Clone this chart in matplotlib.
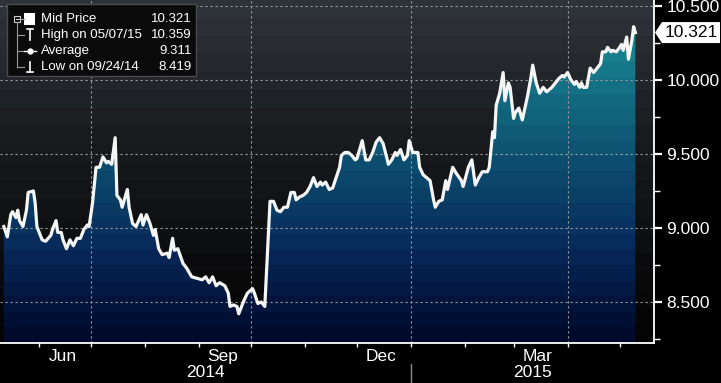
import numpy as np
import pandas as pd
import matplotlib
matplotlib.use("Agg")
import matplotlib.pyplot as plt
import matplotlib.dates as mdates
import matplotlib.transforms as mtransforms
from matplotlib.colors import LinearSegmentedColormap
from matplotlib.patches import Polygon, Rectangle
from matplotlib.ticker import AutoMinorLocator

plt.rcParams['font.family'] = ['Liberation Sans', 'DejaVu Sans']

# ---- data ----
start_date = '2014-05-12'
day_offsets = [
    0, 2, 4, 5, 7, 8, 9, 11, 13, 14,
    17, 18, 19, 22, 24, 27, 28, 30, 31, 33,
    34, 36, 38, 40, 42, 44, 46, 48, 49, 51,
    53, 55, 57, 59, 60, 62, 64, 65, 67, 68,
    71, 72, 74, 76, 79, 80, 82, 84, 86, 87,
    89, 91, 94, 95, 97, 98, 100, 103, 105, 108,
    111, 114, 116, 118, 120, 122, 124, 127, 129, 130,
    132, 134, 135, 138, 140, 143, 144, 146, 148, 150,
    153, 155, 157, 159, 161, 163, 165, 167, 168, 170,
    172, 174, 176, 178, 180, 182, 183, 185, 187, 189,
    191, 193, 194, 196, 198, 200, 202, 203, 206, 208,
    210, 212, 214, 216, 218, 220, 221, 223, 225, 226,
    228, 230, 232, 233, 235, 236, 238, 239, 241, 243,
    245, 247, 248, 250, 252, 254, 255, 258, 260, 263,
    264, 267, 269, 271, 273, 275, 278, 279, 281, 282,
    283, 285, 287, 288, 290, 291, 293, 294, 296, 298,
    301, 303, 304, 306, 308, 310, 312, 315, 317, 319,
    321, 322, 324, 326, 328, 329, 331, 332, 333, 335,
    337, 339, 341, 343, 344, 346, 347, 349, 350, 352,
    354, 355, 356, 358, 359, 361, 362, 363]
mid_price = [
    9.01, 8.94, 9.09, 9.11, 9.07, 9.12, 9.05, 9.01, 9.12, 9.24,
    9.25, 9.17, 9.01, 8.92, 8.91, 8.95, 8.99, 9.05, 8.97, 8.97,
    8.92, 8.86, 8.92, 8.88, 8.93, 8.93, 8.99, 9.02, 9.01, 9.17,
    9.41, 9.41, 9.48, 9.44, 9.45, 9.43, 9.61, 9.22, 9.19, 9.14,
    9.26, 9.14, 9.03, 9.01, 9.09, 9.02, 9.09, 9.03, 8.95, 8.99,
    8.86, 8.82, 8.83, 8.80, 8.93, 8.85, 8.86, 8.76, 8.73, 8.67,
    8.66, 8.65, 8.67, 8.63, 8.67, 8.61, 8.63, 8.61, 8.56, 8.47,
    8.48, 8.47, 8.42, 8.51, 8.56, 8.59, 8.56, 8.49, 8.50, 8.47,
    9.18, 9.18, 9.12, 9.11, 9.14, 9.14, 9.24, 9.24, 9.19, 9.21,
    9.22, 9.24, 9.28, 9.34, 9.28, 9.31, 9.29, 9.31, 9.26, 9.27,
    9.34, 9.41, 9.49, 9.51, 9.51, 9.49, 9.46, 9.47, 9.59, 9.46,
    9.46, 9.51, 9.58, 9.61, 9.57, 9.48, 9.43, 9.46, 9.51, 9.49,
    9.53, 9.46, 9.49, 9.59, 9.51, 9.51, 9.51, 9.41, 9.36, 9.34,
    9.32, 9.19, 9.14, 9.18, 9.19, 9.32, 9.26, 9.41, 9.37, 9.32,
    9.28, 9.41, 9.46, 9.29, 9.34, 9.38, 9.38, 9.41, 9.65, 9.61,
    9.83, 9.91, 10.05, 9.86, 9.98, 9.95, 9.74, 9.78, 9.81, 9.73,
    9.89, 10.02, 10.10, 9.98, 9.91, 9.95, 9.92, 9.95, 9.98, 10.01,
    10.03, 10.02, 10.05, 10.00, 9.97, 9.99, 9.95, 9.98, 9.95, 9.95,
    10.08, 10.05, 10.08, 10.11, 10.19, 10.19, 10.22, 10.19, 10.20, 10.19,
    10.22, 10.24, 10.20, 10.29, 10.14, 10.27, 10.36, 10.32]

legend_labels = ['Mid Price', 'High on 05/07/15', 'Average', 'Low on 09/24/14']
legend_values = ['10.321', '10.359', '9.311', '8.419']
last_label = '10.321'
y_ticks = [8.5, 9.0, 9.5, 10.0, 10.5]
month_labels = ['Jun', 'Sep', 'Dec', 'Mar']
year_labels = ['2014', '2015']

# ---- figure ----
W, H = 721, 383
fig = plt.figure(figsize=(W / 100, H / 100), dpi=100, facecolor='black')
ax = fig.add_axes([0, 40 / H, 654 / W, 343 / H])
ax.set_facecolor('black')

t0 = pd.Timestamp(start_date)
dates = t0 + pd.to_timedelta(day_offsets, unit='D')
x = mdates.date2num(dates.to_pydatetime())
x0 = mdates.date2num(t0.to_pydatetime())
xmin, xmax = x0 - 2.2, x0 + 373.7
ymin, ymax = 8.223, 10.54
ax.set_xlim(xmin, xmax)
ax.set_ylim(ymin, ymax)

# banded background
bg_cmap = LinearSegmentedColormap.from_list('bg', ['#2e3339', '#1c1e22', '#0f1012', '#040404'])
ax.imshow(np.linspace(0, 1, 19).reshape(-1, 1), cmap=bg_cmap, aspect='auto',
          extent=(xmin, xmax, ymin, ymax), origin='upper', interpolation='nearest', zorder=0)

# banded fill under the line
poly = ax.fill_between(x, mid_price, ymin, color='none', lw=0)
fill_cmap = LinearSegmentedColormap.from_list(
    'fill', ['#1f9099', '#146f83', '#0c4a6d', '#072758', '#020a2c'])
im = ax.imshow(np.linspace(0, 1, 22).reshape(-1, 1), cmap=fill_cmap, aspect='auto',
               extent=(xmin, xmax, ymin, ymax), origin='upper', interpolation='nearest', zorder=1)
im.set_clip_path(poly.get_paths()[0], transform=ax.transData)

# grid
months = pd.date_range('2014-06-01', '2015-05-01', freq='MS')
quarters = [m for m in months if m.month in (1, 4, 7, 10)]
for v in y_ticks:
    ax.axhline(v, color='#9a9a9a', lw=0.8, ls=(0, (2, 2.5)), zorder=2)
for q in quarters:
    ax.axvline(mdates.date2num(q.to_pydatetime()), color='#9a9a9a', lw=0.8, ls=(0, (2, 2.5)), zorder=2)

ax.plot(x, mid_price, color='#f5f5f5', lw=2.3, zorder=3, solid_joinstyle='round')

# spines
for s in ['top', 'left']:
    ax.spines[s].set_visible(False)
for s in ['bottom', 'right']:
    ax.spines[s].set_color('white')
    ax.spines[s].set_linewidth(1.3)
    ax.spines[s].set_zorder(4)

# y axis on right
ax.yaxis.tick_right()
ax.set_yticks(y_ticks)
ax.set_yticklabels(['%.3f' % v for v in y_ticks])
ax.yaxis.set_minor_locator(AutoMinorLocator(2))
ax.tick_params(axis='y', which='major', direction='out', length=6, width=1.6,
               colors='white', labelsize=12.5, pad=3)
ax.tick_params(axis='y', which='minor', direction='out', length=4, width=1, colors='white')

# x axis: ticks at month starts, labels mid-month
ax.set_xticks(mdates.date2num(months.to_pydatetime()))
ax.set_xticklabels([''] * len(months))
lab_dates = [m + pd.Timedelta(days=14) for m in months if m.strftime('%b') in month_labels]
ax.set_xticks(mdates.date2num([d.to_pydatetime() for d in lab_dates]), minor=True)
ax.set_xticklabels([d.strftime('%b') for d in lab_dates], minor=True)
ax.tick_params(axis='x', which='major', direction='out', length=3, width=1, colors='white')
ax.tick_params(axis='x', which='minor', length=0, pad=4, labelcolor='white', labelsize=12.5)

# year row
trans = mtransforms.blended_transform_factory(ax.transData, ax.transAxes)
jan1 = mdates.date2num(pd.Timestamp('2015-01-01').to_pydatetime())
ax.text((xmin + jan1) / 2, -0.087, year_labels[0], transform=trans, ha='center', va='center',
        color='white', fontsize=12.5)
ax.text((jan1 + xmax) / 2, -0.087, year_labels[1], transform=trans, ha='center', va='center',
        color='white', fontsize=12.5)
ax.plot([jan1, jan1], [-0.06, -0.12], transform=trans, clip_on=False, color='#8a8a8a', lw=1)

# ---- overlay in pixel coordinates: legend box and last-value tag ----
lax = fig.add_axes([0, 0, 1, 1])
lax.set_xlim(0, W)
lax.set_ylim(H, 0)
lax.axis('off')

lax.add_patch(Rectangle((7, 4), 189, 72, facecolor='#0b0b0b', edgecolor='#4a4a4a', lw=1))
rows = [19, 35, 51, 67]
for lbl, val, ry in zip(legend_labels, legend_values, rows):
    lax.text(41, ry, lbl, color='white', fontsize=9.5, va='center', ha='left')
    lax.text(192, ry, val, color='white', fontsize=9.5, va='center', ha='right')
# tree lines
lax.add_patch(Rectangle((14, 16), 6, 6, facecolor='none', edgecolor='#cfcfcf', lw=0.8))
lax.plot([15.5, 18.5], [19, 19], color='#cfcfcf', lw=0.8)
lax.plot([17, 17], [22, 67], color='#9a9a9a', lw=0.8)
for ry in rows[1:]:
    lax.plot([17, 24], [ry, ry], color='#9a9a9a', lw=0.8)
lax.plot([20, 24], [19, 19], color='#9a9a9a', lw=0.8)
# icons
lax.add_patch(Rectangle((24, 13), 11, 12, facecolor='white', edgecolor='none'))
lax.plot([27, 33], [29, 29], color='white', lw=1.2)
lax.plot([30, 30], [29, 40], color='white', lw=1.2)
lax.plot([24, 36], [51, 51], color='white', lw=1.0)
lax.plot([30], [51], marker='o', ms=3.5, color='white')
lax.plot([30, 30], [62, 72], color='white', lw=1.2)
lax.plot([27, 33], [72, 72], color='white', lw=1.2)

# last value tag
disp = ax.transData.transform((xmax, mid_price[-1]))
ty = H - disp[1]
tag = Polygon([(655, ty), (662, ty - 10.5), (720, ty - 10.5), (720, ty + 10.5), (662, ty + 10.5)],
              closed=True, facecolor='white', edgecolor='none')
lax.add_patch(tag)
lax.text(691, ty, last_label, color='black', fontsize=12.5, ha='center', va='center')

fig.savefig('out.png', dpi=100, facecolor='black')
